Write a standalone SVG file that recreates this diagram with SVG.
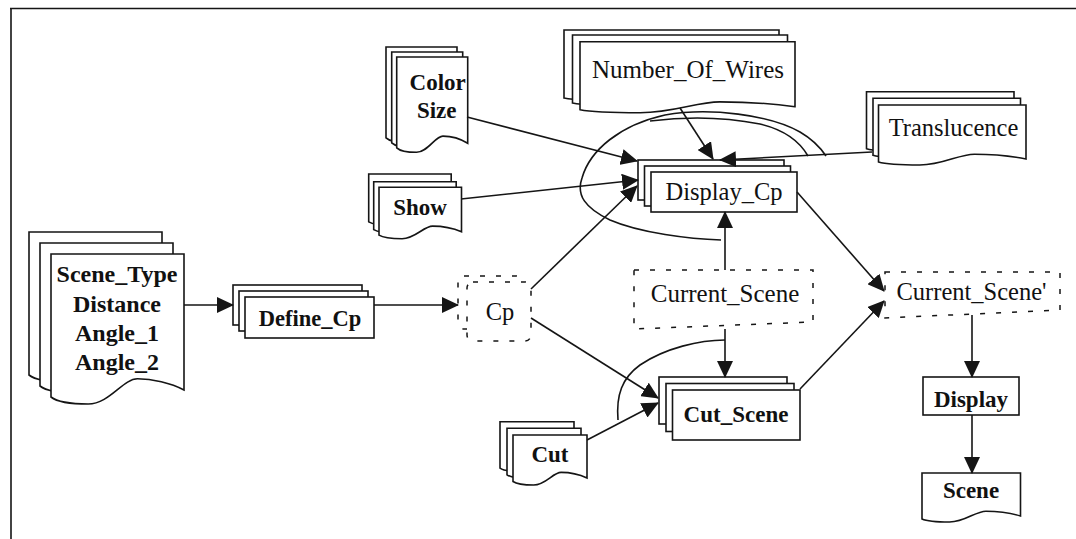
<svg xmlns="http://www.w3.org/2000/svg" width="1076" height="539" viewBox="0 0 1076 539">
<style>
.ln{fill:none;stroke:#151515;stroke-width:1.6}
.ar{marker-end:url(#ah)}
.sh{fill:#fff;stroke:#151515;stroke-width:1.6}
.ds{fill:#fff;stroke:#151515;stroke-width:1.5;stroke-dasharray:5 11}
.tb{font-family:"Liberation Serif","Times New Roman",serif;font-weight:bold;font-size:23px;fill:#111;text-anchor:middle}
.tr{font-family:"Liberation Serif","Times New Roman",serif;font-size:24.5px;fill:#111;text-anchor:middle}
</style>
<defs>
<marker id="ah" viewBox="0 0 17 16" refX="16" refY="8" markerWidth="17" markerHeight="16" markerUnits="userSpaceOnUse" orient="auto"><path d="M0,0 L17,8 L0,16 Z" fill="#151515"/></marker>
<path id="dScene" d="M51,254 H184 V390 C170.7,383 152.1,378.8 137.5,378.8 C122.8,378.8 109.5,404 88.2,404 C69.6,404 56.3,401.2 51,397 Z"/>
<path id="dColor" d="M410,57 H481 V143.3 C473.9,138.8 464,136.1 456.2,136.1 C448.3,136.1 441.2,152.3 429.9,152.3 C419.9,152.3 412.8,150.5 410,147.8 Z"/>
<path id="dShow" d="M392,187.3 H474.5 V231.7 C466.3,228.2 454.7,226.1 445.6,226.1 C436.6,226.1 428.3,238.7 415.1,238.7 C403.6,238.7 395.3,237.3 392,235.2 Z"/>
<path id="dNow" d="M580,41.7 H795 V106.7 C773.5,103.7 743.4,101.9 719.8,101.9 C696.1,101.9 674.6,112.7 640.2,112.7 C610.1,112.7 588.6,111.5 580,109.7 Z"/>
<path id="dTrans" d="M878.5,105 H1026 V159 C1011.3,156 990.6,154.2 974.4,154.2 C958.2,154.2 943.4,165 919.8,165 C899.2,165 884.4,163.8 878.5,162 Z"/>
<path id="dCut" d="M513,435 H587 V478 C579.6,474.5 569.2,472.4 561.1,472.4 C553,472.4 545.6,485 533.7,485 C523.4,485 516,483.6 513,481.5 Z"/>
</defs>

<g id="frame"><path class="ln" d="M10,8.5 H1076 M11,8 V539"/></g>

<g id="n-scene-params">
<use href="#dScene" class="sh" x="-22" y="-22"/>
<use href="#dScene" class="sh" x="-11" y="-11"/>
<use href="#dScene" class="sh"/>
<text class="tb" x="117" y="282" style="font-size:24px">Scene_Type</text>
<text class="tb" x="117" y="312" style="font-size:24px">Distance</text>
<text class="tb" x="117" y="341" style="font-size:24px">Angle_1</text>
<text class="tb" x="117" y="370" style="font-size:24px">Angle_2</text>
</g>

<g id="n-define-cp">
<rect class="sh" x="233" y="285" width="129" height="40"/>
<rect class="sh" x="239" y="291" width="129" height="40"/>
<rect class="sh" x="245" y="297" width="129" height="41"/>
<text class="tb" x="310" y="326" style="font-size:22.5px">Define_Cp</text>
</g>

<g id="n-cp">
<rect class="ds" x="458" y="276" width="64" height="53" rx="6"/>
<rect class="ds" x="467" y="282" width="64" height="59" rx="6"/>
<text class="tr" x="500" y="320">Cp</text>
</g>

<g id="n-color-size" transform="translate(-13.3,0)">
<use href="#dColor" class="sh" x="-10.7" y="-10"/>
<use href="#dColor" class="sh" x="-5" y="-5"/>
<use href="#dColor" class="sh"/>
<text class="tb" x="451" y="90">Color</text>
<text class="tb" x="450" y="118">Size</text>
</g>

<g id="n-show" transform="translate(-13,0)">
<use href="#dShow" class="sh" x="-10.3" y="-13.3"/>
<use href="#dShow" class="sh" x="-5.3" y="-5.6"/>
<use href="#dShow" class="sh"/>
<text class="tb" x="433" y="215">Show</text>
</g>

<g id="n-number-of-wires">
<use href="#dNow" class="sh" x="-16" y="-11.7"/>
<use href="#dNow" class="sh" x="-7.5" y="-6.7"/>
<use href="#dNow" class="sh"/>
<text class="tr" x="688" y="78" style="font-size:25px">Number_Of_Wires</text>
</g>

<g id="n-translucence">
<use href="#dTrans" class="sh" x="-12" y="-13.3"/>
<use href="#dTrans" class="sh" x="-5.5" y="-6.7"/>
<use href="#dTrans" class="sh"/>
<text class="tr" x="953.5" y="136">Translucence</text>
</g>

<g id="n-display-cp">
<rect class="sh" x="638" y="160" width="146" height="40"/>
<rect class="sh" x="644.5" y="166" width="146" height="40"/>
<rect class="sh" x="651" y="172" width="146" height="40"/>
<text class="tr" x="724" y="200">Display_Cp</text>
</g>

<g id="n-current-scene">
<path class="ds" d="M634,270 H813 V322 L634,329 Z"/>
<text class="tr" x="725" y="302" style="font-size:25px">Current_Scene</text>
</g>

<g id="n-current-scene-prime">
<path class="ds" d="M885,272 H1060 V310 L885,318 Z"/>
<text class="tr" x="971.5" y="300">Current_Scene'</text>
</g>

<g id="n-cut">
<use href="#dCut" class="sh" x="-13" y="-13.3"/>
<use href="#dCut" class="sh" x="-6" y="-6.7"/>
<use href="#dCut" class="sh"/>
<text class="tb" x="550" y="462">Cut</text>
</g>

<g id="n-cut-scene">
<rect class="sh" x="659" y="377" width="128" height="47"/>
<rect class="sh" x="666" y="383.5" width="128" height="48"/>
<rect class="sh" x="672.5" y="390" width="127.5" height="50"/>
<text class="tb" x="736" y="422">Cut_Scene</text>
</g>

<g id="n-display">
<rect class="sh" x="923" y="377" width="96" height="38"/>
<text class="tb" x="971" y="407">Display</text>
</g>

<g id="n-scene">
<path class="sh" d="M922,473 H1020.5 V516 C1010.7,513 996.9,511.2 986,511.2 C975.2,511.2 965.3,522 949.6,522 C935.8,522 925.9,520.8 922,519 Z"/>
<text class="tb" x="971" y="498">Scene</text>
</g>

<g id="connectors">
<path class="ln ar" d="M184,305 H233"/>
<path class="ln ar" d="M374,305 H458"/>
<path class="ln ar" d="M467,117 L637,161"/>
<path class="ln ar" d="M461,199 L638,180"/>
<path class="ln ar" d="M531,289 L637,186"/>
<path class="ln ar" d="M680,108 L713,159"/>
<path class="ln ar" d="M872,152 L720,160"/>
<path class="ln ar" d="M725,270 V212"/>
<path class="ln ar" d="M797,192 L884,291"/>
<path class="ln ar" d="M725,329 V377"/>
<path class="ln ar" d="M531,318 L658,398"/>
<path class="ln ar" d="M587,440 L658,403"/>
<path class="ln ar" d="M800,389 L884,301"/>
<path class="ln ar" d="M972,315 V377"/>
<path class="ln ar" d="M972,415 V473"/>
<path class="ln" d="M721,240 C690,239 640,233 610,220 C585,208 576,195 582,178 C590,150 620,125 665,115 C710,107 770,115 800,132 C812,139 820,147 826,156"/>
<path class="ln" d="M650,121 C690,116 730,118 760,124 C785,130 800,142 808,156"/>
<path class="ln" d="M725,340 C700,340 665,348 640,365 C622,378 616,395 618,420"/>
</g>
</svg>
